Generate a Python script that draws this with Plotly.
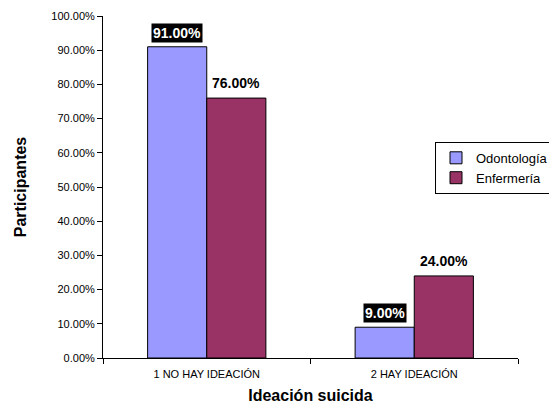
import plotly.graph_objects as go

categories = ["1 NO HAY IDEACIÓN", "2 HAY IDEACIÓN"]
odontologia = [91.0, 9.0]
enfermeria = [76.0, 24.0]
y_ticks = [0, 10, 20, 30, 40, 50, 60, 70, 80, 90, 100]

fig = go.Figure()
fig.add_trace(go.Bar(name="Odontología", x=categories, y=odontologia,
                     marker=dict(color="#9999FF", line=dict(color="black", width=1))))
fig.add_trace(go.Bar(name="Enfermería", x=categories, y=enfermeria,
                     marker=dict(color="#993366", line=dict(color="black", width=1))))

off = (1 - 0.43) / 4
annotations = []
for i, v in enumerate(odontologia):
    annotations.append(dict(x=i - off, y=v, xref="x", yref="y", text=f"<b>{v:.2f}%</b>",
                            showarrow=False, yanchor="bottom", yshift=4,
                            font=dict(color="white", size=14, family="Liberation Sans, Arial"),
                            bgcolor="black", borderpad=1))
for i, v in enumerate(enfermeria):
    annotations.append(dict(x=i + off, y=v, xref="x", yref="y", text=f"<b>{v:.2f}%</b>",
                            showarrow=False, yanchor="bottom", yshift=5,
                            font=dict(color="black", size=14, family="Liberation Sans, Arial"),
                            borderpad=1))

fig.update_layout(
    width=549, height=413,
    margin=dict(l=103, r=31, t=16, b=55, autoexpand=False),
    paper_bgcolor="white", plot_bgcolor="white",
    barmode="group", bargap=0.43, bargroupgap=0,
    font=dict(family="Liberation Sans, Arial", size=11, color="black"),
    showlegend=True,
    legend=dict(x=0.80, y=0.632, xanchor="left", yanchor="top",
                bordercolor="black", borderwidth=1, bgcolor="white",
                font=dict(size=13), tracegroupgap=0, itemwidth=30),
    annotations=annotations,
    xaxis=dict(showline=True, linecolor="black", linewidth=1, ticks="outside",
               tickson="boundaries", ticklen=5, tickcolor="black", showgrid=False,
               ticklabelstandoff=6,
               title=dict(text="<b>Ideación suicida</b>", font=dict(size=16), standoff=10)),
    yaxis=dict(range=[0, 100], tickvals=y_ticks, ticktext=[f"{t:.2f}%" for t in y_ticks],
               showline=True, linecolor="black", linewidth=1, ticks="outside", ticklen=5,
               tickcolor="black", showgrid=False, zeroline=False,
               title=dict(text="<b>Participantes</b>", font=dict(size=16), standoff=20)),
)

fig.write_html("out.html")
